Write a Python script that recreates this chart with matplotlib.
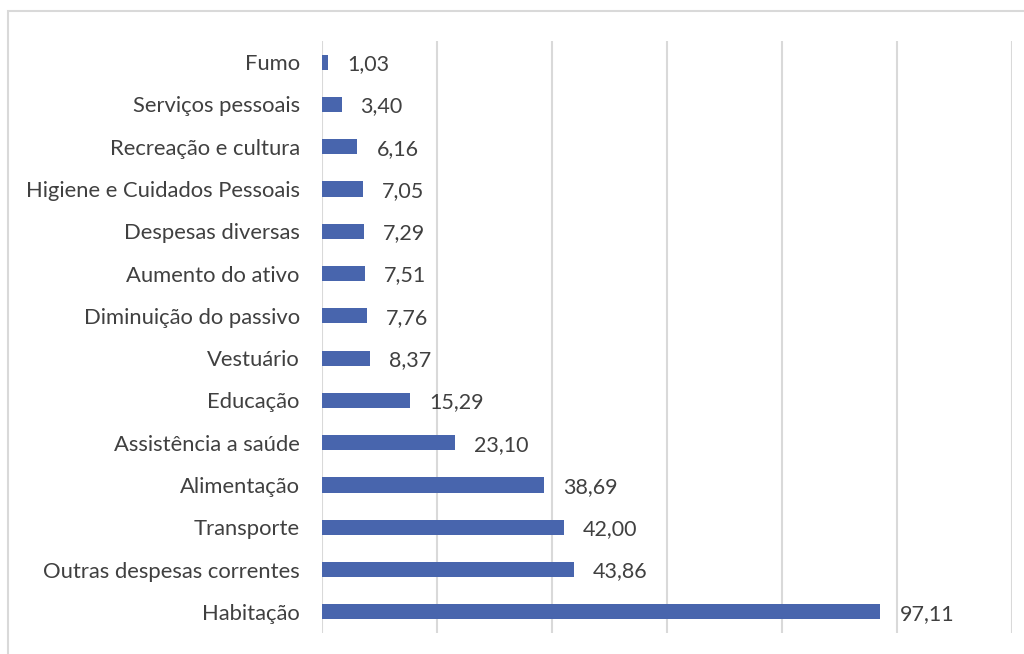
import matplotlib
matplotlib.use('Agg')
import matplotlib.pyplot as plt
from matplotlib.patches import Rectangle

# despesas por grupo, de cima para baixo
categorias = ['Fumo', 'Serviços pessoais', 'Recreação e cultura',
              'Higiene e Cuidados Pessoais', 'Despesas diversas',
              'Aumento do ativo', 'Diminuição do passivo', 'Vestuário',
              'Educação', 'Assistência a saúde', 'Alimentação',
              'Transporte', 'Outras despesas correntes', 'Habitação']
valores = [1.03, 3.40, 6.16, 7.05, 7.29, 7.51, 7.76, 8.37,
           15.29, 23.10, 38.69, 42.00, 43.86, 97.11]
x_ticks = [0, 20, 40, 60, 80, 100, 120]

plt.rcParams['font.family'] = ['Lato', 'DejaVu Sans']
cor_barra = '#4865AD'
cor_texto = '#404040'
cor_grade = '#D9D9D9'

fig = plt.figure(figsize=(10.24, 6.54), dpi=100)
ax = fig.add_axes([322 / 1024, 1 - 633 / 654, (1012 - 322) / 1024, (633 - 41) / 654])

pos = list(range(len(categorias)))
ax.barh(pos, valores, height=0.36, color=cor_barra, zorder=3)
ax.set_ylim(len(categorias) - 0.5, -0.5)
ax.set_xlim(x_ticks[0], x_ticks[-1])
ax.set_xticks(x_ticks)
ax.set_xticklabels([])
ax.set_yticks(pos)
ax.set_yticklabels(categorias, fontsize=15.8, color=cor_texto)
ax.tick_params(axis='both', length=0)
ax.tick_params(axis='y', pad=16)
ax.grid(axis='x', color=cor_grade, linewidth=1.5, zorder=0)
for s in ax.spines.values():
    s.set_visible(False)

for p, v in zip(pos, valores):
    ax.annotate(f'{v:.2f}'.replace('.', ','), (v, p), xytext=(19, -2),
                textcoords='offset pixels', va='center', ha='left',
                fontsize=15.5, color=cor_texto)

# moldura do gráfico
fig.add_artist(Rectangle((8 / 1024, -0.1), 1.2, 1 - 11 / 654 + 0.1,
                         transform=fig.transFigure, fill=False,
                         edgecolor=cor_grade, linewidth=1.5))

fig.savefig('out.png', dpi=100)
